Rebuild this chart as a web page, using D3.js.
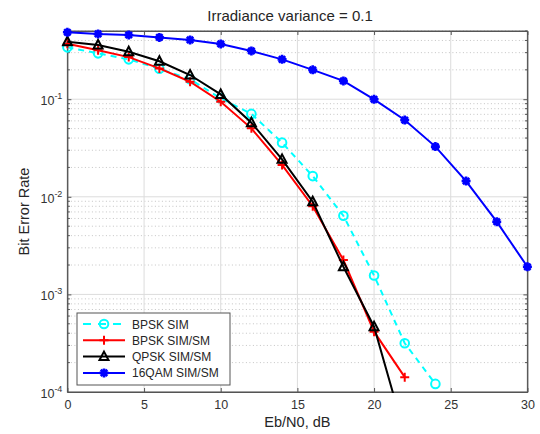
<!DOCTYPE html>
<html lang="en">
<head>
<meta charset="UTF-8">
<title>Irradiance variance = 0.1</title>
<script src="https://cdn.jsdelivr.net/npm/d3@7"></script>
<style>
  body { margin: 0; background: #fff; }
  text { font-family: "Liberation Sans", Arial, sans-serif; fill: #262626; }
  .grid line { stroke: #dcdcdc; stroke-width: 1; }
  .grid .minor { stroke: #c4c4c4; stroke-dasharray: 1 2.5; }
  .axis path, .axis line { stroke: #555; }
  .axis text { font-size: 12.5px; fill: #333; }
</style>
</head>
<body>
<svg width="540" height="434"></svg>
<script>
// Eb/N0 values (dB)
var ebn0 = [0, 2, 4, 6, 8, 10, 12, 14, 16, 18, 20, 22, 24, 26, 28, 30];

// BER
var bpskSim   = [0.34, 0.295, 0.256, 0.205, 0.16, 0.102, 0.0707, 0.0359, 0.0163, 0.0064, 0.00156, 0.000316, 0.000121];
var bpskSimSm = [0.37, 0.318, 0.27, 0.207, 0.151, 0.0943, 0.0503, 0.0212, 0.0080, 0.00225, 0.000415, 0.000142];
var qpskSimSm = [0.388, 0.36, 0.307, 0.245, 0.177, 0.112, 0.0575, 0.0242, 0.0089, 0.00192, 0.000467, 0.000037];
var qam16SimSm = [0.485, 0.466, 0.455, 0.43, 0.405, 0.368, 0.312, 0.256, 0.20, 0.154, 0.0998, 0.0612, 0.0327, 0.0145, 0.00556, 0.00192];

var seriesNames = ["BPSK SIM", "BPSK SIM/SM", "QPSK SIM/SM", "16QAM SIM/SM"];
var xTicks = [0, 5, 10, 15, 20, 25, 30];
var yTicks = [1e-4, 1e-3, 1e-2, 1e-1];
var yTickExp = ["-4", "-3", "-2", "-1"];

var svg = d3.select("svg");
var pLeft = 67.4, pRight = 527.4, pTop = 31, pBottom = 392;

var x = d3.scaleLinear().domain([0, 30]).range([pLeft, pRight]);
var y = d3.scaleLog().domain([1e-4, 0.5]).range([pBottom, pTop]);

// minor log values
var minors = [];
[1e-4, 1e-3, 1e-2, 1e-1].forEach(function(d) {
  for (var k = 2; k <= 9; k++) {
    if (d * k <= 0.5) minors.push(d * k);
  }
});

// grid
var grid = svg.append("g").attr("class", "grid");
grid.selectAll(".minor").data(minors).enter().append("line")
  .attr("class", "minor")
  .attr("x1", pLeft).attr("x2", pRight)
  .attr("y1", function(d) { return y(d); }).attr("y2", function(d) { return y(d); });
grid.selectAll(".hmaj").data(yTicks).enter().append("line")
  .attr("x1", pLeft).attr("x2", pRight)
  .attr("y1", function(d) { return y(d); }).attr("y2", function(d) { return y(d); });
grid.selectAll(".vmaj").data(xTicks).enter().append("line")
  .attr("y1", pTop).attr("y2", pBottom)
  .attr("x1", function(d) { return x(d); }).attr("x2", function(d) { return x(d); });

// axes
svg.append("g").attr("class", "axis")
  .attr("transform", "translate(0," + pBottom + ")")
  .call(d3.axisBottom(x).tickValues(xTicks).tickSizeInner(-4).tickSizeOuter(0).tickPadding(8));
svg.append("g").attr("class", "axis")
  .attr("transform", "translate(0," + pTop + ")")
  .call(d3.axisTop(x).tickValues(xTicks).tickSizeInner(-4).tickSizeOuter(0).tickFormat(""));

var yAxis = svg.append("g").attr("class", "axis")
  .attr("transform", "translate(" + pLeft + ",0)")
  .call(d3.axisLeft(y).tickValues(yTicks).tickSizeInner(-4).tickSizeOuter(0).tickFormat(""));
yAxis.selectAll(".minortick").data(minors).enter().append("line")
  .attr("x1", 0).attr("x2", 2.5)
  .attr("y1", function(d) { return y(d); }).attr("y2", function(d) { return y(d); })
  .attr("stroke", "#555");
var yAxisR = svg.append("g").attr("class", "axis")
  .attr("transform", "translate(" + pRight + ",0)")
  .call(d3.axisRight(y).tickValues(yTicks).tickSizeInner(-4).tickSizeOuter(0).tickFormat(""));
yAxisR.selectAll(".minortick").data(minors).enter().append("line")
  .attr("x1", 0).attr("x2", -2.5)
  .attr("y1", function(d) { return y(d); }).attr("y2", function(d) { return y(d); })
  .attr("stroke", "#555");

// y tick labels: 10^n
yTicks.forEach(function(d, i) {
  var t = svg.append("text")
    .attr("x", pLeft - 5).attr("y", y(d) + 6)
    .attr("text-anchor", "end")
    .style("font-size", "12.5px").style("fill", "#333");
  t.append("tspan").text("10");
  t.append("tspan").attr("dy", -6).style("font-size", "9px").text(yTickExp[i]);
});

// box edges
svg.append("rect").attr("x", pLeft).attr("y", pTop)
  .attr("width", pRight - pLeft).attr("height", pBottom - pTop)
  .attr("fill", "none").attr("stroke", "#555");

// titles
svg.append("text").attr("x", 290).attr("y", 21)
  .attr("text-anchor", "middle").style("font-size", "15px").text("Irradiance variance = 0.1");
svg.append("text").attr("x", (pLeft + pRight) / 2).attr("y", 427)
  .attr("text-anchor", "middle").style("font-size", "14.5px").text("Eb/N0, dB");
svg.append("text")
  .attr("transform", "translate(29," + ((pTop + pBottom) / 2) + ") rotate(-90)")
  .attr("text-anchor", "middle").style("font-size", "14.5px").text("Bit Error Rate");

// clip
svg.append("clipPath").attr("id", "plotclip").append("rect")
  .attr("x", pLeft - 6).attr("y", pTop - 6).attr("width", pRight - pLeft + 12).attr("height", pBottom - pTop + 7);

var series = [
  { name: seriesNames[0], values: bpskSim, color: "#00ffff", dash: "6 5", marker: "circle" },
  { name: seriesNames[1], values: bpskSimSm, color: "#ff0000", dash: null, marker: "plus" },
  { name: seriesNames[2], values: qpskSimSm, color: "#000000", dash: null, marker: "triangle" },
  { name: seriesNames[3], values: qam16SimSm, color: "#0000ff", dash: null, marker: "star" }
];

var line = d3.line()
  .x(function(d) { return x(d[0]); })
  .y(function(d) { return y(d[1]); });

function drawMarker(g, type, color) {
  if (type === "circle") {
    g.append("circle").attr("r", 4.3).attr("fill", "none").attr("stroke", color).attr("stroke-width", 2);
  } else if (type === "plus") {
    g.append("path").attr("d", "M-4.5,0H4.5M0,-4.5V4.5").attr("stroke", color).attr("stroke-width", 2);
  } else if (type === "triangle") {
    g.append("path").attr("d", "M0,-5L4.5,3.5L-4.5,3.5Z").attr("fill", "none").attr("stroke", color).attr("stroke-width", 2);
  } else if (type === "star") {
    g.append("path").attr("d", "M-4.5,0H4.5M0,-4.5V4.5M-3.2,-3.2L3.2,3.2M-3.2,3.2L3.2,-3.2")
      .attr("stroke", color).attr("stroke-width", 2.6);
    g.append("circle").attr("r", 3.2).attr("fill", color);
  }
}

var plot = svg.append("g").attr("clip-path", "url(#plotclip)");
series.forEach(function(s) {
  var pts = s.values.map(function(v, i) { return [ebn0[i], v]; });
  plot.append("path").datum(pts)
    .attr("d", line)
    .attr("fill", "none")
    .attr("stroke", s.color)
    .attr("stroke-width", 2)
    .attr("stroke-dasharray", s.dash);
  pts.forEach(function(p) {
    if (p[1] < 1e-4) return;
    var g = plot.append("g").attr("transform", "translate(" + x(p[0]) + "," + y(p[1]) + ")");
    drawMarker(g, s.marker, s.color);
  });
});

// legend
var lg = svg.append("g").attr("transform", "translate(77,313)");
lg.append("rect").attr("width", 153).attr("height", 72)
  .attr("fill", "#fff").attr("stroke", "#555");
series.forEach(function(s, i) {
  var yy = 11 + i * 16.3;
  lg.append("line").attr("x1", 6).attr("x2", 48).attr("y1", yy).attr("y2", yy)
    .attr("stroke", s.color).attr("stroke-width", 2).attr("stroke-dasharray", s.dash ? "8 7" : null);
  var g = lg.append("g").attr("transform", "translate(27," + yy + ")");
  drawMarker(g, s.marker, s.color);
  lg.append("text").attr("x", 55).attr("y", yy + 4.5).style("font-size", "12px").text(s.name);
});
</script>
</body>
</html>
